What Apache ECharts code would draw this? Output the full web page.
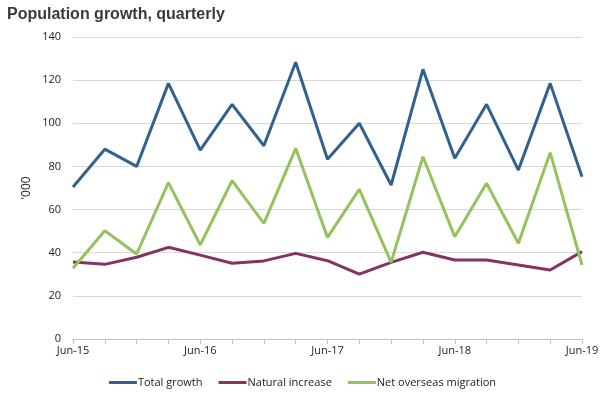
<!DOCTYPE html>
<html>
<head>
<meta charset="utf-8">
<script src="https://cdn.jsdelivr.net/npm/echarts@6/dist/echarts.min.js"></script>
<style>
  html, body { margin: 0; padding: 0; background: #fff; }
  #chart { width: 605px; height: 399px; }
</style>
</head>
<body>
<div id="chart"></div>
<script>
const quarters = ['Jun-15', 'Sep-15', 'Dec-15', 'Mar-16', 'Jun-16', 'Sep-16', 'Dec-16', 'Mar-17',
  'Jun-17', 'Sep-17', 'Dec-17', 'Mar-18', 'Jun-18', 'Sep-18', 'Dec-18', 'Mar-19', 'Jun-19']

const totalGrowth = [70.5, 88, 80, 118.5, 87.6, 108.8, 89.6, 128.3, 83.3, 100, 71.4, 125, 83.8, 108.8, 78.3, 118.5, 75.2]
const naturalIncrease = [35.7, 34.6, 37.9, 42.5, 38.9, 35.1, 36.2, 39.7, 36.3, 30.1, 35.5, 40.2, 36.6, 36.6, 34.3, 32, 40.5]
const netOverseas = [32.8, 50.2, 39.4, 72.5, 43.6, 73.4, 53.6, 88.4, 47.1, 69.4, 35.5, 84.5, 47.4, 72.2, 44.4, 86.4, 34.3]

const colors = {
  total: '#33618f',
  natural: '#833460',
  nom: '#93c35e'
}

const font = 'Open Sans'

const lineSeries = (name, data, color) => ({
  name,
  type: 'line',
  data,
  symbol: 'none',
  lineStyle: { color, width: 3 },
  itemStyle: { color }
})

const chart = echarts.init(document.getElementById('chart'))
chart.setOption({
  animation: false,
  title: {
    text: 'Population growth, quarterly',
    left: 2,
    top: 2,
    textStyle: { fontFamily: 'Liberation Sans', fontSize: 16, fontWeight: 'bold', color: '#3a3a3a' }
  },
  legend: {
    bottom: 6,
    left: 'center',
    itemWidth: 28,
    itemHeight: 3,
    itemGap: 16,
    icon: 'rect',
    textStyle: { fontFamily: font, fontSize: 11, color: '#222', padding: [0, 0, 0, -4] },
    data: ['Total growth', 'Natural increase', 'Net overseas migration']
  },
  grid: { left: 73, right: 23, top: 37, bottom: 60 },
  xAxis: {
    type: 'category',
    data: quarters,
    boundaryGap: false,
    axisLine: { lineStyle: { color: '#bfbfbf' } },
    axisTick: { show: true, interval: 0, length: 5, lineStyle: { color: '#bfbfbf' } },
    axisLabel: { interval: 3, fontFamily: font, fontSize: 11, color: '#222', margin: 6 },
    splitLine: { show: false }
  },
  yAxis: {
    type: 'value',
    min: 0,
    max: 140,
    interval: 20,
    name: "'000",
    nameLocation: 'middle',
    nameGap: 40,
    nameMoveOverlap: false,
    nameRotate: 90,
    nameTextStyle: { fontFamily: font, fontSize: 12, color: '#222' },
    axisLine: { show: false },
    axisTick: { show: false },
    axisLabel: { fontFamily: font, fontSize: 11, color: '#222', margin: 12 },
    splitLine: { lineStyle: { color: '#d9d9d9' } }
  },
  series: [
    lineSeries('Total growth', totalGrowth, colors.total),
    lineSeries('Natural increase', naturalIncrease, colors.natural),
    lineSeries('Net overseas migration', netOverseas, colors.nom)
  ]
})
</script>
</body>
</html>
